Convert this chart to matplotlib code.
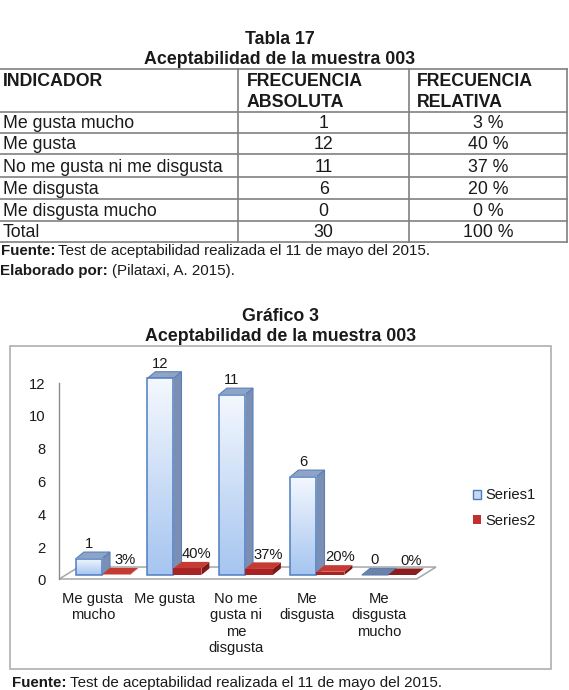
import numpy as np
import matplotlib
matplotlib.use('Agg')
import matplotlib.pyplot as plt
from matplotlib.patches import Polygon, Rectangle, Patch
from matplotlib.colors import LinearSegmentedColormap

plt.rcParams['font.family'] = ['Liberation Sans', 'DejaVu Sans']

# -----------------------------
# DATA
# -----------------------------
indicadores = ['Me gusta mucho', 'Me gusta', 'No me gusta ni me disgusta',
               'Me disgusta', 'Me disgusta mucho']
frec_abs = [1, 12, 11, 6, 0]
frec_rel = ['3 %', '40 %', '37 %', '20 %', '0 %']
total_row = ['Total', '30', '100 %']

cat_labels = ['Me gusta\nmucho', 'Me gusta', 'No me\ngusta ni\nme\ndisgusta',
              'Me\ndisgusta', 'Me\ndisgusta\nmucho']
series1 = [1, 12, 11, 6, 0]
series2 = [0.03, 0.40, 0.37, 0.20, 0.00]
yticks = [0, 2, 4, 6, 8, 10, 12]

# -----------------------------
# PAGE (pixel coords)
# -----------------------------
W, H = 569, 690
fig = plt.figure(figsize=(W / 100, H / 100), dpi=100)
page = fig.add_axes([0, 0, 1, 1])
page.set_xlim(0, W)
page.set_ylim(H, 0)
page.axis('off')

TXT = '#1a1a1a'
LINE = '#808080'
fs_tab = 12.8
fs_chart = 10.6
fs_note = 10.9

page.text(280, 44.3, 'Tabla 17', ha='center', va='baseline', fontsize=fs_tab,
          fontweight='bold', color=TXT)
page.text(280, 64.3, 'Aceptabilidad de la muestra 003', ha='center', va='baseline',
          fontsize=fs_tab, fontweight='bold', color=TXT)

# table grid
col_x = [-1, 238.3, 409, 566.7]
row_y = [69, 111.7, 132.7, 154.3, 176.7, 198.7, 221, 241.7]
for y in row_y:
    page.plot([col_x[0], col_x[-1]], [y, y], color=LINE, lw=1.2)
for x in col_x[1:]:
    page.plot([x, x], [row_y[0], row_y[-1]], color=LINE, lw=1.2)

# header
page.text(3.3, 86, 'INDICADOR', fontsize=fs_tab, fontweight='bold', va='baseline', color=TXT)
page.text(246.7, 86, 'FRECUENCIA', fontsize=fs_tab, fontweight='bold', va='baseline', color=TXT)
page.text(246.7, 106.7, 'ABSOLUTA', fontsize=fs_tab, fontweight='bold', va='baseline', color=TXT)
page.text(417.3, 86, 'FRECUENCIA', fontsize=fs_tab, fontweight='bold', va='baseline', color=TXT)
page.text(417.3, 106.7, 'RELATIVA', fontsize=fs_tab, fontweight='bold', va='baseline', color=TXT)

rows = [[n, str(a), r] for n, a, r in zip(indicadores, frec_abs, frec_rel)] + [total_row]
c2 = (col_x[1] + col_x[2]) / 2
c3 = (col_x[2] + col_x[3]) / 2
for k, row in enumerate(rows):
    yb = row_y[k + 2] - 5
    page.text(2.7, yb, row[0], fontsize=fs_tab, va='baseline', color=TXT)
    page.text(c2, yb, row[1], fontsize=fs_tab, va='baseline', ha='center', color=TXT)
    page.text(c3, yb, row[2], fontsize=fs_tab, va='baseline', ha='center', color=TXT)


def note(x, y, bold, normal):
    t = page.text(x, y, bold, fontweight='bold', fontsize=fs_note, va='baseline', color=TXT)
    fig.canvas.draw()
    bb = t.get_window_extent()
    x2 = page.transData.inverted().transform((bb.x1, 0))[0]
    page.text(x2 + 3.5, y, normal, fontsize=fs_note, va='baseline', color=TXT)


note(0.5, 255, 'Fuente:', 'Test de aceptabilidad realizada el 11 de mayo del 2015.')
note(0.5, 275, 'Elaborado por:', '(Pilataxi, A. 2015).')

page.text(281, 321.3, 'Gráfico 3', ha='center', va='baseline', fontsize=fs_tab,
          fontweight='bold', color=TXT)
page.text(281, 341.3, 'Aceptabilidad de la muestra 003', ha='center', va='baseline',
          fontsize=fs_tab, fontweight='bold', color=TXT)

page.add_patch(Rectangle((10, 346), 540.7, 323, fill=False, edgecolor='#A8A8A8', lw=1.1))
note(11.7, 687, 'Fuente:', 'Test de aceptabilidad realizada el 11 de mayo del 2015.')

# -----------------------------
# CHART
# -----------------------------
ax_l, ax_r, ax_t, ax_b = 49, 460, 353.7, 589.75
ax = fig.add_axes([ax_l / W, 1 - ax_b / H, (ax_r - ax_l) / W, (ax_b - ax_t) / H])
ax.set_xlim(-0.751, 4.997)
ax.set_ylim(-0.9, 13.5)
ax.patch.set_alpha(0)
for s in ax.spines.values():
    s.set_visible(False)

# floor
fl_x0, fl_x1, fl_y = -0.607, 4.392, -0.244
fl_dx, fl_dy = 0.27, 0.73
ax.add_patch(Polygon([(fl_x0, fl_y), (fl_x1, fl_y), (fl_x1 + fl_dx, fl_y + fl_dy),
                      (fl_x0 + fl_dx, fl_y + fl_dy)], closed=True, facecolor='white',
                     edgecolor='#A6A6A6', lw=1.1, zorder=1, clip_on=False))
ax.plot([fl_x0, fl_x0], [fl_y, yticks[-1] - 0.3], color='#8C8C8C', lw=1, zorder=1)

dx, dy = 0.112, 0.40
blue_w, red_w = 0.365, 0.39
grad_cmap = LinearSegmentedColormap.from_list('bar_grad', ['#A6C5F0', '#F4F8FE'])
grad = np.linspace(0, 1, 128).reshape(-1, 1)

for i in range(len(series1)):
    # Series1 (blue)
    h = series1[i]
    x0 = i - 0.375
    x1 = x0 + blue_w
    if h > 0:
        ax.add_patch(Polygon([(x1, 0), (x1 + dx, dy), (x1 + dx, h + dy), (x1, h)],
                             facecolor='#7A8FB3', edgecolor='#5A80B8', lw=0.8, zorder=3))
        ax.imshow(grad, extent=[x0, x1, 0, h], origin='lower', cmap=grad_cmap,
                  aspect='auto', zorder=3.1, interpolation='bilinear')
        ax.add_patch(Rectangle((x0, 0), blue_w, h, fill=False, edgecolor='#4F7DC0',
                               lw=1.1, zorder=3.2))
    top_c = '#8EA4C7' if h > 0 else '#6C82A6'
    ax.add_patch(Polygon([(x0, h), (x1, h), (x1 + dx, h + dy), (x0 + dx, h + dy)],
                         facecolor=top_c, edgecolor='#5A80B8', lw=0.8, zorder=3))
    ax.text((x0 + x1) / 2, h + 0.9, str(h), ha='center', va='center',
            fontsize=fs_chart, color=TXT, zorder=6)

    # Series2 (red)
    v = series2[i]
    r0 = i - 0.01
    r1 = r0 + red_w
    if v > 0:
        ax.add_patch(Polygon([(r1, 0), (r1 + dx, dy), (r1 + dx, v + dy), (r1, v)],
                             facecolor='#7E1818', edgecolor='none', zorder=4))
        ax.add_patch(Rectangle((r0, 0), red_w, v, facecolor='#A82424',
                               edgecolor='none', zorder=4.1))
    top_r = '#C63A34' if v > 0 else '#8A1D1D'
    ax.add_patch(Polygon([(r0, v), (r1, v), (r1 + dx, v + dy), (r0 + dx, v + dy)],
                         facecolor=top_r, edgecolor='none', zorder=4))
    ax.text((r0 + r1) / 2 + 0.13, v + 0.87, f'{v:.0%}', ha='center', va='center',
            fontsize=fs_chart, color=TXT, zorder=6)

ax.set_yticks([t - 0.3 for t in yticks], labels=[str(t) for t in yticks])
ax.set_xticks(np.arange(len(cat_labels)) - 0.136, labels=cat_labels)
ax.tick_params(axis='y', length=0, pad=2.4, labelsize=fs_chart, labelcolor=TXT)
ax.tick_params(axis='x', length=0, pad=1.5, labelsize=fs_chart, labelcolor=TXT)
for lab in ax.get_xticklabels():
    lab.set_linespacing(1.22)

fig.legend(handles=[Patch(facecolor='#C6D9F3', edgecolor='#4A7EBB', label='Series1'),
                    Patch(facecolor='#C0302E', edgecolor='none', label='Series2')],
           loc='center left', bbox_to_anchor=(473 / W, 1 - 508 / H), frameon=False,
           fontsize=fs_chart, handlelength=0.55, handleheight=0.55, handletextpad=0.3,
           labelspacing=0.75, borderpad=0, borderaxespad=0, labelcolor=TXT)

fig.savefig('out.png', dpi=100)
